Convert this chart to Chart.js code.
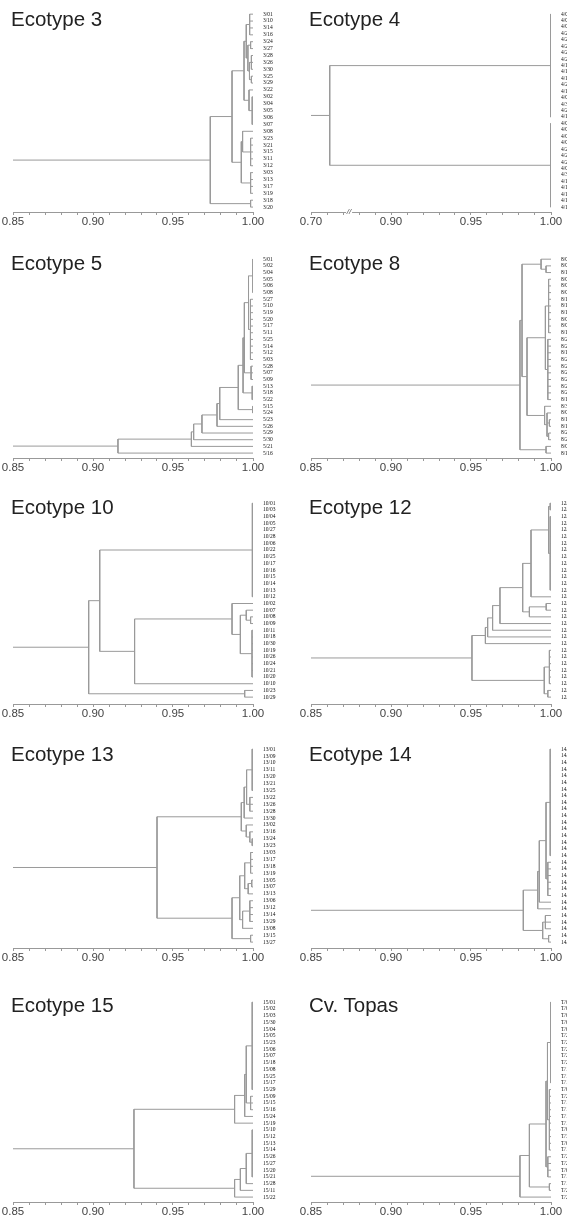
<!DOCTYPE html>
<html>
<head>
<meta charset="utf-8">
<script src="https://cdn.jsdelivr.net/npm/chart.js@4/dist/chart.umd.min.js"></script>
<style>
  html, body { margin: 0; padding: 0; background: #fff; }
  body { position: relative; width: 567px; height: 1220px; overflow: hidden; }
  canvas { position: absolute; }
  .title { position: absolute; font-family: "Liberation Sans", Arial, sans-serif; font-size: 20.5px; line-height: 1; color: #222; white-space: nowrap; }
</style>
</head>
<body>
<script>
// x axis labels
const xLabels = ["0.85", "0.90", "0.95", "1.00"];
const e4XLabels = ["0.70", "0.90", "0.95", "1.00"];

// leaf labels, top to bottom
const e3Leaves = ["3/01","3/10","3/14","3/16","3/24","3/27","3/28","3/26","3/30","3/25","3/29","3/22","3/02","3/04","3/05",
  "3/06","3/07","3/08","3/23","3/21","3/15","3/11","3/12","3/03","3/13","3/17","3/19","3/18","3/20"];
const e4Leaves = ["4/01","4/07","4/08","4/29","4/28","4/21","4/24","4/23","4/19","4/18","4/16","4/22","4/11","4/09","4/31","4/20",
  "4/10","4/02","4/03","4/04","4/05","4/26","4/27","4/25","4/06","4/30","4/17","4/14","4/12","4/13","4/15"];
const e5Leaves = ["5/01","5/02","5/04","5/05","5/06","5/08","5/27","5/10","5/19","5/20","5/17","5/11","5/25","5/14","5/12",
  "5/03","5/28","5/07","5/09","5/13","5/18","5/22","5/15","5/24","5/23","5/26","5/29","5/30","5/21","5/16"];
const e8Leaves = ["8/01","8/03","8/12","8/02","8/04","8/09","8/11","8/13","8/15","8/05","8/08","8/10","8/27","8/23","8/18",
  "8/28","8/21","8/20","8/25","8/26","8/24","8/19","8/30","8/07","8/17","8/16","8/22","8/29","8/06","8/14"];
const e10Leaves = ["10/01","10/03","10/04","10/05","10/27","10/28","10/06","10/22","10/25","10/17","10/16","10/15","10/14","10/13","10/12",
  "10/02","10/07","10/08","10/09","10/11","10/18","10/30","10/19","10/26","10/24","10/21","10/20","10/10","10/23","10/29"];
const e12Leaves = ["12/01","12/05","12/07","12/08","12/09","12/11","12/12","12/15","12/22","12/16","12/17","12/19","12/18","12/06","12/04",
  "12/13","12/23","12/20","12/10","12/02","12/03","12/14","12/25","12/21","12/26","12/30","12/28","12/27","12/24","12/29"];
const e13Leaves = ["13/01","13/09","13/10","13/11","13/20","13/21","13/25","13/22","13/26","13/28","13/30","13/02","13/16","13/24","13/23",
  "13/03","13/17","13/18","13/19","13/05","13/07","13/13","13/06","13/12","13/14","13/29","13/08","13/15","13/27"];
const e14Leaves = ["14/01","14/05","14/06","14/10","14/22","14/07","14/24","14/21","14/09","14/17","14/18","14/14","14/19","14/15","14/13",
  "14/12","14/16","14/02","14/03","14/08","14/11","14/23","14/29","14/20","14/27","14/04","14/30","14/26","14/25","14/28"];
const e15Leaves = ["15/01","15/02","15/03","15/30","15/04","15/05","15/23","15/06","15/07","15/18","15/08","15/25","15/17","15/29","15/09",
  "15/15","15/16","15/24","15/19","15/10","15/12","15/13","15/14","15/26","15/27","15/20","15/21","15/28","15/11","15/22"];
const topasLeaves = ["T/01","T/02","T/03","T/04","T/05","T/27","T/28","T/23","T/22","T/20","T/19","T/18","T/17","T/09","T/24",
  "T/14","T/13","T/12","T/11","T/06","T/30","T/08","T/15","T/26","T/21","T/07","T/10","T/16","T/25","T/29"];

// group of consecutive leaves joined at one similarity
function comb(h, a, b) {
  const node = [h];
  for (let i = a; i <= b; i++) node.push(i);
  return node;
}

// trees: [similarity, child, child, ...], a child is a leaf index or a sub tree
const e3Tree = [0.9733,
  [0.9869,
    [0.9944,
      [0.9958, comb(0.9979, 0, 3), [0.9968, [0.9985, 4, 5], [0.9978, comb(0.999, 6, 8), [0.999, 9, 10]]]],
      [0.9975, 11, comb(0.9995, 12, 16)]],
    [0.9927, [0.9935, 17, comb(0.9985, 18, 22)], comb(0.9985, 23, 26)]],
  [0.9985, 27, 28]];

const e4Tree = [0.7234, comb(0.9998, 0, 16), comb(0.9998, 17, 30)];

const e5Tree = [0.9156,
  [0.9615,
    [0.9629,
      [0.9681,
        [0.9775,
          [0.9792,
            [0.9908,
              [0.9938,
                [0.9946, [0.9972, comb(0.9999, 0, 5), comb(0.9984, 6, 15)], comb(0.9988, 16, 18)],
                comb(0.9995, 19, 21)],
              comb(0.9998, 22, 23)],
            24],
          25],
        26],
      27],
    28],
  29];

const e8Tree = [0.9806,
  [0.9819,
    [0.9938, 0, [0.9969, 1, 2]],
    [0.985,
      [0.9965, comb(0.9985, 3, 11), comb(0.998, 12, 21)],
      [0.996, 22, [0.9975, 23, [0.999, 24, 25], [0.9985, 26, 27]]]]],
  [0.9969, 28, 29]];

const e10Tree = [0.8973,
  [0.9042,
    comb(0.9996, 0, 14),
    [0.926,
      [0.9869, 15, [0.9921, [0.9958, 16, [0.9985, 17, 18]], comb(0.9994, 19, 26)]],
      27]],
  [0.9948, 28, 29]];

const e12Tree = [0.9506,
  [0.959,
    [0.9604,
      [0.9635,
        [0.9681,
          [0.9823,
            [0.9875, [0.9985, comb(0.9995, 0, 1), comb(0.9995, 2, 13)], 14],
            [0.9865, [0.997, 15, 16], 17]],
          18],
        19],
      20],
    21],
  [0.9958, comb(0.999, 22, 27), [0.998, 28, 29]]];

const e13Tree = [0.94,
  [0.9927,
    [0.9945, [0.996, comb(0.9995, 0, 6), comb(0.998, 7, 9)], 10],
    [0.9958, 11, [0.998, 12, [0.9995, 13, 14]]]],
  [0.9869,
    [0.9917,
      [0.9948, comb(0.9985, 15, 18), [0.997, [0.9992, 19, 20], 21]],
      [0.9935, comb(0.998, 22, 25), 26]],
    [0.9985, 27, 28]]];

const e14Tree = [0.9827,
  [0.9917,
    [0.9927, [0.9969, comb(0.9995, 0, 16), comb(0.998, 17, 22)], 23],
    24],
  [0.9948, comb(0.9965, 25, 27), [0.9985, 28, 29]]];

const e15Tree = [0.9256,
  [0.9885,
    [0.9948, [0.9958, comb(0.9995, 0, 13), comb(0.9985, 14, 16)], 17],
    18],
  [0.9885,
    [0.9921, [0.9958, comb(0.9995, 19, 26), 27], 28],
    29]];

const topasTree = [0.9806,
  [0.9865,
    [0.9969, [0.9978, comb(0.9998, 0, 12), comb(0.999, 13, 22)], comb(0.998, 23, 26)],
    [0.999, 27, 28]],
  29];

// page layout (px)
const ROW_TOP = [0, 246, 492, 736, 990];
const ROW_FIRST = [11, 10, 8, 10, 9];      // first leaf, from canvas top
const ROW_LAST = [207, 207, 205, 206, 207]; // last leaf, from canvas top
const TITLE_TOP = [9, 253, 497, 744, 995];
const COL_LEFT = [0, 298];
const TITLE_LEFT = [11, 309];
const W = 283, H = 245, AREA_TOP = 2, AREA_BOTTOM = 212;
const LINE = "#9a9a9a";

const panels = [
  { title: "Ecotype 3", leaves: e3Leaves, tree: e3Tree, row: 0, col: 0 },
  { title: "Ecotype 4", leaves: e4Leaves, tree: e4Tree, row: 0, col: 1, broken: true },
  { title: "Ecotype 5", leaves: e5Leaves, tree: e5Tree, row: 1, col: 0 },
  { title: "Ecotype 8", leaves: e8Leaves, tree: e8Tree, row: 1, col: 1 },
  { title: "Ecotype 10", leaves: e10Leaves, tree: e10Tree, row: 2, col: 0 },
  { title: "Ecotype 12", leaves: e12Leaves, tree: e12Tree, row: 2, col: 1 },
  { title: "Ecotype 13", leaves: e13Leaves, tree: e13Tree, row: 3, col: 0 },
  { title: "Ecotype 14", leaves: e14Leaves, tree: e14Tree, row: 3, col: 1 },
  { title: "Ecotype 15", leaves: e15Leaves, tree: e15Tree, row: 4, col: 0 },
  { title: "Cv. Topas", leaves: topasLeaves, tree: topasTree, row: 4, col: 1 }
];

// broken axis of Ecotype 4: 0.70..0.75 is squeezed into 0.85..0.875
const BREAK_AT = 0.8738;
function shown(v, broken) {
  return broken && v < 0.75 ? 0.85 + (v - 0.70) * 0.5 : v;
}

// walk the tree, push line pieces, return the node position
function build(node, pts, broken) {
  if (typeof node === "number") return { x: 1, y: node };
  const h = shown(node[0], broken);
  const kids = node.slice(1).map(k => build(k, pts, broken));
  kids.forEach(k => {
    pts.push({ x: k.x, y: k.y }, { x: h, y: k.y }, { x: null, y: null });
  });
  const y0 = kids[0].y, y1 = kids[kids.length - 1].y;
  pts.push({ x: h, y: y0 }, { x: h, y: y1 }, { x: null, y: null });
  return { x: h, y: (y0 + y1) / 2 };
}

const breakMark = {
  id: "breakMark",
  afterDraw(chart) {
    if (!chart.options.plugins.breakMark.on) return;
    const ctx = chart.ctx;
    const px = chart.scales.x.getPixelForValue(BREAK_AT);
    const py = chart.chartArea.bottom;
    ctx.save();
    ctx.fillStyle = "#fff";
    ctx.fillRect(px - 3, py - 1, 6, 3);
    ctx.fillStyle = "#555";
    ctx.font = "italic 8px 'Liberation Sans'";
    ctx.textAlign = "center";
    ctx.textBaseline = "middle";
    ctx.fillText("//", px, py);
    ctx.restore();
  }
};

panels.forEach(p => {
  const canvas = document.createElement("canvas");
  canvas.width = W;
  canvas.height = H;
  canvas.style.left = COL_LEFT[p.col] + "px";
  canvas.style.top = ROW_TOP[p.row] + "px";
  document.body.appendChild(canvas);

  const title = document.createElement("div");
  title.className = "title";
  title.textContent = p.title;
  title.style.left = TITLE_LEFT[p.col] + "px";
  title.style.top = TITLE_TOP[p.row] + "px";
  document.body.appendChild(title);

  const pts = [];
  const root = build(p.tree, pts, p.broken);
  pts.push({ x: root.x, y: root.y }, { x: 0.85, y: root.y });

  const n = p.leaves.length;
  const step = (ROW_LAST[p.row] - ROW_FIRST[p.row]) / (n - 1);
  const yMin = -(ROW_FIRST[p.row] - AREA_TOP) / step;
  const yMax = (n - 1) + (AREA_BOTTOM - ROW_LAST[p.row]) / step;
  const labels = p.broken ? e4XLabels : xLabels;

  new Chart(canvas, {
    type: "scatter",
    data: {
      datasets: [{
        data: pts,
        showLine: true,
        spanGaps: false,
        borderColor: LINE,
        borderWidth: 1,
        pointRadius: 0,
        tension: 0
      }]
    },
    plugins: [breakMark],
    options: {
      responsive: false,
      animation: false,
      events: [],
      layout: { padding: { left: 13, top: AREA_TOP, right: 0, bottom: 0 } },
      plugins: {
        legend: { display: false },
        tooltip: { enabled: false },
        breakMark: { on: !!p.broken }
      },
      scales: {
        x: {
          type: "linear",
          position: "bottom",
          min: 0.85,
          max: 1.0,
          afterBuildTicks: s => {
            s.ticks = Array.from({ length: 16 }, (_, k) => ({ value: (85 + k) / 100 }));
          },
          afterFit: s => { s.height = H - AREA_BOTTOM; },
          grid: { drawOnChartArea: false, tickLength: 3, color: "#999" },
          border: { color: "#999" },
          ticks: {
            autoSkip: false,
            maxRotation: 0,
            padding: 0,
            color: "#444",
            font: { family: "'Liberation Sans', Arial", size: 11.5 },
            callback: (v, i) => (i % 5 === 0 ? labels[i / 5] : "")
          }
        },
        y: {
          type: "linear",
          position: "right",
          reverse: true,
          min: yMin,
          max: yMax,
          afterBuildTicks: s => {
            s.ticks = p.leaves.map((_, i) => ({ value: i }));
          },
          afterFit: s => { s.width = 30; },
          grid: { display: false },
          border: { display: false },
          ticks: {
            autoSkip: false,
            padding: 2,
            color: "#111",
            font: { family: "'Liberation Serif', serif", size: 5.5 },
            callback: v => p.leaves[v]
          }
        }
      }
    }
  });
});
</script>
</body>
</html>
